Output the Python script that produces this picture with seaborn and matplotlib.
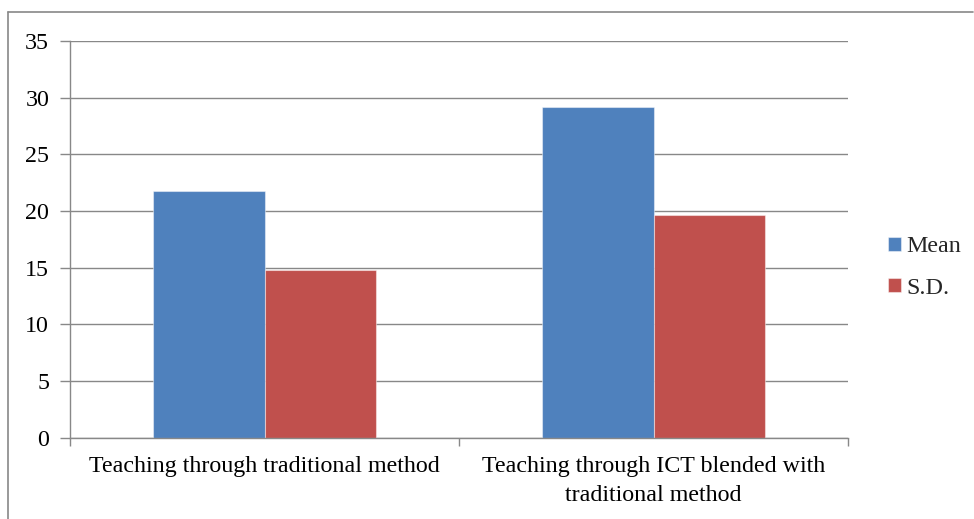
import matplotlib
matplotlib.use("Agg")
import matplotlib.pyplot as plt
from matplotlib.lines import Line2D
import seaborn as sns
import pandas as pd

# Data
categories = ["Teaching through traditional method",
              "Teaching through ICT blended with\ntraditional method"]
mean_values = [21.79, 29.15]
sd_values = [14.80, 19.65]
series_names = ["Mean", "S.D."]
y_ticks = [0, 5, 10, 15, 20, 25, 30, 35]

df = pd.DataFrame({
    "category": categories * 2,
    "series": [series_names[0]] * 2 + [series_names[1]] * 2,
    "value": mean_values + sd_values,
})

sns.set_theme(style="white")
plt.rcParams["font.family"] = ["Liberation Serif", "DejaVu Serif"]

W, H = 974, 519
fig = plt.figure(figsize=(W / 100, H / 100), dpi=100)
ax = fig.add_axes([70 / W, 1 - 437.7 / H, (848 - 70) / W, (437.7 - 41) / H])

grid_col = "#888888"
ax.set_axisbelow(True)
ax.yaxis.grid(True, color=grid_col, linewidth=1.0)

sns.barplot(data=df, x="category", y="value", hue="series",
            order=categories, hue_order=series_names,
            palette=["#4F81BD", "#C0504D"], saturation=1,
            width=0.5707, gap=0,
            edgecolor=(1, 1, 1, 0.45), linewidth=0.8,
            errorbar=None, ax=ax)

ax.set_xlim(-0.5, 1.5)
ax.set_ylim(0, 35)
ax.set_yticks(y_ticks)
ax.set_yticklabels([str(t) for t in y_ticks])

# Category boundaries as major ticks, labels on minor ticks at centres
ax.set_xticks([-0.5, 0.5, 1.5])
ax.set_xticklabels(["", "", ""])
ax.set_xticks([0, 1], minor=True)
ax.set_xticklabels(categories, minor=True, fontsize=17.3, linespacing=1.5)
ax.tick_params(axis="x", which="major", direction="out", length=6,
               width=1.0, color=grid_col, bottom=True)
ax.tick_params(axis="x", which="minor", length=0, pad=13, bottom=True)
ax.tick_params(axis="y", direction="out", length=7, width=1.0,
               color=grid_col, pad=8, labelsize=17.3, left=True)
for lbl in ax.get_yticklabels() + ax.get_xticklabels(minor=True):
    lbl.set_color("black")

ax.set_xlabel("")
ax.set_ylabel("")
for side in ["top", "right"]:
    ax.spines[side].set_visible(False)
for side in ["left", "bottom"]:
    ax.spines[side].set_color(grid_col)
    ax.spines[side].set_linewidth(1.0)

handles, labels = ax.get_legend_handles_labels()
ax.legend(handles, labels, loc="center left",
          bbox_to_anchor=(888 / W, 1 - 267.5 / H),
          bbox_transform=fig.transFigure, frameon=False,
          fontsize=17.3, handlelength=0.55, handleheight=0.55,
          handletextpad=0.22, labelspacing=0.85,
          borderpad=0, borderaxespad=0)

# Outer chart border (top and left edges)
fig.add_artist(Line2D([8 / W, 973 / W], [1 - 12 / H, 1 - 12 / H],
                      color=grid_col, linewidth=1.2, transform=fig.transFigure))
fig.add_artist(Line2D([8 / W, 8 / W], [0, 1 - 12 / H],
                      color=grid_col, linewidth=1.2, transform=fig.transFigure))

fig.savefig("out.png", dpi=100)
